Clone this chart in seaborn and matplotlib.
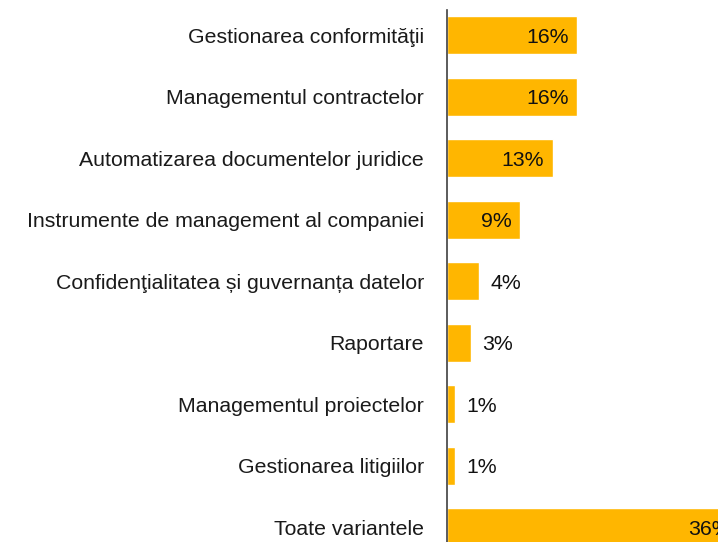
# Bare orizontale cu seaborn

import pandas as pd
from matplotlib import pyplot as plt
import seaborn as sns

sns.set_style('white')
plt.rcParams['font.family'] = ['Liberation Sans', 'DejaVu Sans']

# Data
categorii = [
    'Gestionarea conformităţii',
    'Managementul contractelor',
    'Automatizarea documentelor juridice',
    'Instrumente de management al companiei',
    'Confidenţialitatea și guvernanța datelor',
    'Raportare',
    'Managementul proiectelor',
    'Gestionarea litigiilor',
    'Toate variantele',
]
procente = [16, 16, 13, 9, 4, 3, 1, 1, 36]

df = pd.DataFrame({'categorie': categorii, 'procent': procente})

# Plot
fig = plt.figure(figsize=(7.18, 5.42), dpi=100)
ax = fig.add_axes([447 / 718, 0, 1 - 447 / 718, 532 / 542])

sns.barplot(data=df, x='procent', y='categorie', color='#FFB600',
            saturation=1, width=0.62, ax=ax)

ax.set_xlim(0, 271 / 8.12)
ax.set_ylim(8.24, -0.41)
ax.set_xlabel('')
ax.set_ylabel('')
ax.set_xticks([])
ax.tick_params(axis='y', length=0, pad=16.5, labelsize=15.3, labelcolor='#1a1a1a')

for s in ['top', 'right', 'bottom']:
    ax.spines[s].set_visible(False)
ax.spines['left'].set_color('#404040')
ax.spines['left'].set_linewidth(1.2)

# Etichete
for i, v in enumerate(procente):
    if v >= 9:
        ax.annotate(f'{v}%', (v, i), xytext=(-6, 0), textcoords='offset points',
                    ha='right', va='center_baseline', fontsize=15.3, color='#111111',
                    annotation_clip=False, clip_on=True)
    else:
        ax.annotate(f'{v}%', (v, i), xytext=(8, 0), textcoords='offset points',
                    ha='left', va='center_baseline', fontsize=15.3, color='#111111')

plt.savefig('out.png', dpi=100)
